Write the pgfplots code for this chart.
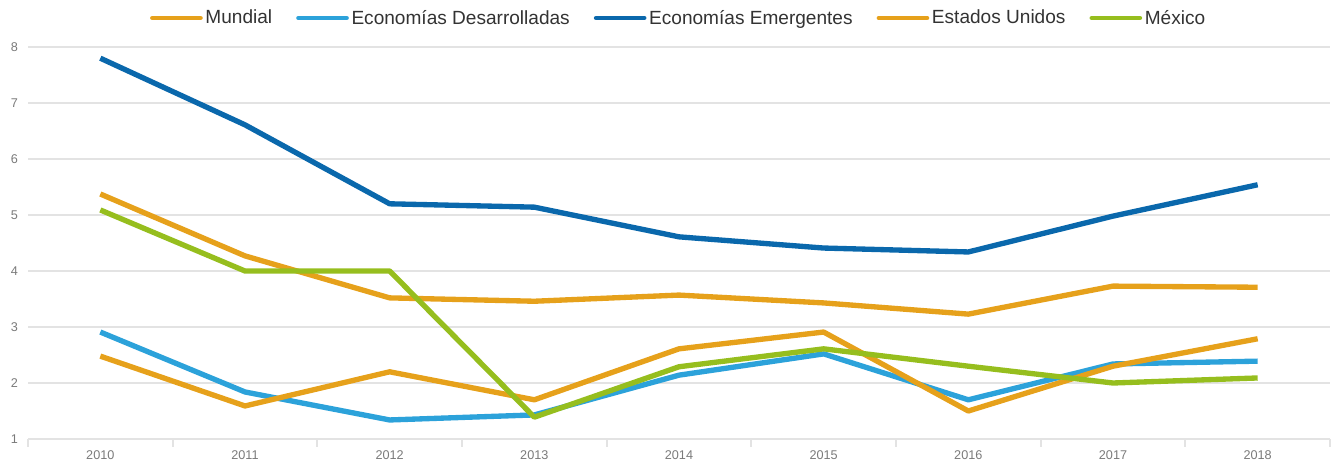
\documentclass[border=0pt]{standalone}
\usepackage{pgfplots}
\pgfplotsset{compat=1.18}
\usepackage{fontspec}
\setmainfont{Liberation Sans}
\definecolor{cOr}{HTML}{E6A11B}
\definecolor{cLb}{HTML}{2CA2DA}
\definecolor{cDb}{HTML}{0A68AC}
\definecolor{cGr}{HTML}{96BE1E}
\definecolor{cGrid}{HTML}{E3E3E3}
\definecolor{cTxt}{HTML}{7A7A7A}
\begin{document}
\begin{tikzpicture}
\useasboundingbox (0,0) rectangle (1001.25pt,348.75pt);
\begin{axis}[
  at={(21pt,19.5pt)}, anchor=south west,
  scale only axis, width=976.5pt, height=294pt,
  xmin=-0.5, xmax=8.5, ymin=1, ymax=8,
  axis lines*=left,
  y axis line style={draw=none},
  x axis line style={cGrid, line width=1.5pt},
  xtick={0,...,8},
  xticklabels={2010,2011,2012,2013,2014,2015,2016,2017,2018},
  minor xtick={-0.5,0.5,...,8.5},
  ytick={1,...,8},
  major tick length=0pt, minor tick length=6pt,
  tick align=outside,
  minor tick style={cGrid, line width=1.5pt},
  ymajorgrids,
  grid style={cGrid, line width=1.5pt},
  tick label style={font=\fontsize{9.5}{10}\selectfont, text=cTxt},
  xticklabel style={yshift=-5pt},
  yticklabel style={xshift=-4pt},
  /pgf/number format/assume math mode=true,
  legend columns=5,
  legend style={draw=none, at={(0.5,1)}, anchor=center, yshift=21.75pt,
    font=\fontsize{14.3}{16}\selectfont, text=black!80,
    /tikz/every even column/.append style={column sep=16pt}},
  legend image code/.code={\draw[#1, line width=3.5pt, line cap=round] (0pt,0pt) -- (36pt,0pt);},
  every axis plot/.append style={line width=4pt, line join=round, mark=none},
  clip=false,
]
\addplot[cOr] coordinates {(0,5.375) (1,4.27) (2,3.52) (3,3.46) (4,3.57) (5,3.43) (6,3.23) (7,3.73) (8,3.71)};
\addlegendentry{Mundial}
\addplot[cLb] coordinates {(0,2.91) (1,1.84) (2,1.34) (3,1.43) (4,2.14) (5,2.52) (6,1.70) (7,2.34) (8,2.39)};
\addlegendentry{Economías Desarrolladas}
\addplot[cDb] coordinates {(0,7.80) (1,6.61) (2,5.20) (3,5.14) (4,4.61) (5,4.41) (6,4.34) (7,4.98) (8,5.54)};
\addlegendentry{Economías Emergentes}
\addplot[cOr] coordinates {(0,2.48) (1,1.59) (2,2.20) (3,1.70) (4,2.61) (5,2.91) (6,1.50) (7,2.30) (8,2.79)};
\addlegendentry{Estados Unidos}
\addplot[cGr] coordinates {(0,5.09) (1,4.0) (2,4.0) (3,1.39) (4,2.29) (5,2.61) (6,2.30) (7,2.0) (8,2.09)};
\addlegendentry{México}
\end{axis}
\end{tikzpicture}
\end{document}
